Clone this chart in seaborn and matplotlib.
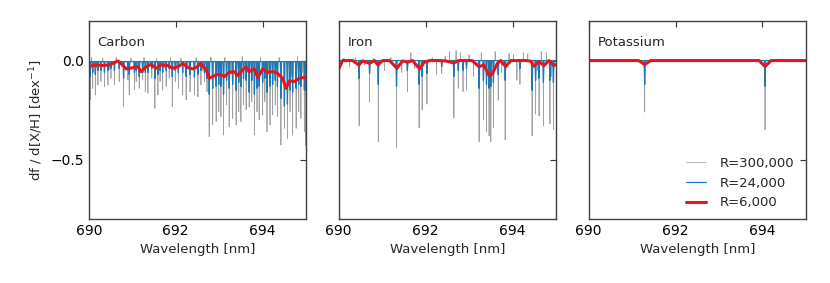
import numpy as np
import pandas as pd
import matplotlib
matplotlib.use("Agg")
import matplotlib.pyplot as plt
import seaborn as sns

# ---- line lists: centre [nm], R=300,000 depth, R=24,000 depth
carbon_wl = [690.03, 690.09, 690.15, 690.21, 690.28, 690.36, 690.44, 690.51, 690.59, 690.70,
             690.80, 690.90, 690.93, 691.05, 691.09, 691.16, 691.24, 691.30, 691.36, 691.45,
             691.52, 691.59, 691.64, 691.70, 691.78, 691.85, 691.92, 691.99, 692.06, 692.16,
             692.24, 692.33, 692.43, 692.51, 692.58, 692.66, 692.72, 692.77, 692.85, 692.93,
             692.99, 693.04, 693.10, 693.17, 693.23, 693.31, 693.39, 693.45, 693.50, 693.56,
             693.62, 693.69, 693.75, 693.81, 693.87, 693.92, 694.00, 694.05, 694.10, 694.17,
             694.23, 694.29, 694.34, 694.42, 694.50, 694.57, 694.63, 694.69, 694.77, 694.83,
             694.88, 694.96, 694.995]
carbon_hi = [-0.199, -0.140, -0.174, -0.123, -0.106, -0.131, -0.123, -0.089, -0.123, -0.106,
             -0.233, -0.098, -0.174, -0.148, -0.106, -0.140, -0.098, -0.157, -0.165, -0.089,
             -0.241, -0.174, -0.106, -0.148, -0.131, -0.089, -0.233, -0.106, -0.140, -0.174,
             -0.199, -0.157, -0.174, -0.183, -0.123, -0.106, -0.157, -0.384, -0.325, -0.308,
             -0.258, -0.283, -0.376, -0.224, -0.334, -0.292, -0.325, -0.258, -0.308, -0.224,
             -0.249, -0.235, -0.207, -0.376, -0.258, -0.300, -0.275, -0.207, -0.359, -0.325,
             -0.275, -0.224, -0.283, -0.426, -0.342, -0.393, -0.258, -0.376, -0.342, -0.258,
             -0.292, -0.359, -0.430]
carbon_mid = [-0.081, -0.060, -0.070, -0.050, -0.050, -0.060, -0.050, -0.040, -0.050, -0.040,
              -0.090, -0.050, -0.070, -0.060, -0.050, -0.080, -0.060, -0.060, -0.060, -0.040,
              -0.090, -0.070, -0.050, -0.060, -0.050, -0.040, -0.080, -0.050, -0.060, -0.060,
              -0.080, -0.070, -0.080, -0.070, -0.050, -0.060, -0.090, -0.170, -0.140, -0.130,
              -0.120, -0.130, -0.170, -0.100, -0.140, -0.120, -0.150, -0.110, -0.130, -0.090,
              -0.100, -0.160, -0.100, -0.170, -0.140, -0.130, -0.110, -0.090, -0.160, -0.130,
              -0.120, -0.100, -0.130, -0.190, -0.230, -0.220, -0.150, -0.160, -0.140, -0.120,
              -0.130, -0.150, -0.150]
carbon_small_wl = [690.06, 690.18, 690.32, 690.47, 690.63, 690.75, 690.97, 691.13, 691.27,
                   691.41, 691.56, 691.74, 691.88, 692.02, 692.12, 692.28, 692.47, 692.62,
                   692.81, 692.96, 693.13, 693.27, 693.53, 693.66, 693.95, 694.14, 694.38,
                   694.66, 694.80, 694.92]
carbon_small = [0.015, -0.035, 0.012, -0.045, 0.015, -0.030, 0.012, -0.040, 0.015, -0.030,
                0.010, -0.035, 0.015, -0.040, 0.012, -0.030, 0.015, -0.050, 0.018, -0.060,
                0.015, -0.070, 0.020, -0.060, 0.018, -0.070, 0.015, -0.080, 0.020, -0.060]

iron_wl = [690.005, 690.47, 690.71, 690.91, 691.33, 691.58, 691.85, 691.92, 692.03, 692.37,
           692.65, 692.75, 692.86, 692.94, 693.23, 693.33, 693.40, 693.46, 693.50, 693.56,
           693.67, 693.83, 694.17, 694.45, 694.53, 694.61, 694.71, 694.86, 694.94]
iron_hi = [-0.39, -0.33, -0.21, -0.41, -0.44, -0.157, -0.34, -0.25, -0.22, -0.065,
           -0.29, -0.14, -0.157, -0.148, -0.41, -0.30, -0.36, -0.38, -0.41, -0.34,
           -0.20, -0.40, -0.12, -0.38, -0.27, -0.28, -0.33, -0.32, -0.35]
iron_mid = [-0.17, -0.09, -0.065, -0.12, -0.13, -0.05, -0.12, -0.08, -0.065, -0.03,
            -0.08, -0.05, -0.05, -0.04, -0.14, -0.10, -0.12, -0.14, -0.13, -0.11,
            -0.07, -0.10, -0.04, -0.15, -0.10, -0.09, -0.11, -0.10, -0.11]
iron_small_wl = [690.12, 690.25, 690.38, 690.60, 690.80, 691.05, 691.20, 691.45, 691.66,
                 691.75, 692.15, 692.25, 692.45, 692.55, 692.70, 692.80, 693.00, 693.10,
                 693.28, 693.60, 693.75, 693.92, 694.02, 694.10, 694.25, 694.35, 694.57,
                 694.66, 694.78, 694.90]
iron_small = [0.012, -0.030, 0.015, -0.025, 0.012, -0.050, 0.015, -0.060, 0.040, -0.040,
              0.015, -0.070, 0.020, 0.045, 0.050, 0.040, 0.030, -0.080, 0.040, 0.045,
              -0.060, 0.035, 0.030, -0.100, 0.040, 0.035, -0.050, 0.045, 0.040, -0.080]

potassium_wl = [691.29, 694.06]
potassium_hi = [-0.26, -0.35]
potassium_mid = [-0.12, -0.13]
potassium_small_wl = []
potassium_small = []

# ---- R=6,000 curves
carbon_lo_wl = [690.00, 690.17, 690.32, 690.47, 690.67, 690.78, 690.86, 691.01, 691.13, 691.20,
                691.32, 691.43, 691.55, 691.66, 691.82, 691.93, 692.05, 692.16, 692.28, 692.39,
                692.49, 692.58, 692.70, 692.77, 692.89, 693.00, 693.12, 693.23, 693.35, 693.42,
                693.54, 693.62, 693.69, 693.81, 693.89, 694.00, 694.11, 694.23, 694.34, 694.46,
                694.54, 694.61, 694.73, 694.84, 694.92, 695.00]
carbon_lo = [-0.030, -0.022, -0.025, -0.022, -0.002, -0.022, -0.042, -0.036, -0.031, -0.056,
             -0.031, -0.019, -0.039, -0.022, -0.025, -0.039, -0.031, -0.014, -0.036, -0.042,
             -0.032, -0.014, -0.047, -0.090, -0.076, -0.069, -0.081, -0.059, -0.056, -0.076,
             -0.047, -0.031, -0.056, -0.042, -0.086, -0.042, -0.059, -0.056, -0.064, -0.090,
             -0.140, -0.103, -0.106, -0.090, -0.086, -0.086]

iron_lo_wl = [690.00, 690.09, 690.32, 690.46, 690.55, 690.71, 690.82, 690.90, 691.01, 691.17,
              691.34, 691.47, 691.59, 691.70, 691.86, 691.97, 692.09, 692.30, 692.46, 692.65,
              692.76, 692.92, 693.07, 693.23, 693.34, 693.46, 693.53, 693.65, 693.73, 693.84,
              693.96, 694.15, 694.30, 694.42, 694.49, 694.61, 694.72, 694.84, 694.95, 695.00]
iron_lo = [-0.042, 0.000, 0.000, -0.022, -0.002, -0.014, 0.000, -0.022, 0.000, 0.000,
           -0.039, -0.002, -0.008, 0.000, -0.042, -0.008, 0.000, 0.000, -0.002, -0.012,
           0.000, 0.000, 0.000, -0.031, -0.022, -0.076, -0.069, -0.014, 0.000, -0.031,
           0.000, 0.000, 0.000, -0.003, -0.028, -0.005, -0.025, 0.000, -0.025, -0.020]

potassium_lo_wl = [690.00, 691.15, 691.29, 691.43, 693.92, 694.06, 694.20, 695.00]
potassium_lo = [0.0, 0.0, -0.020, 0.0, 0.0, -0.030, 0.0, 0.0]

elements = ["Carbon", "Iron", "Potassium"]
resolutions = ["R=300,000", "R=24,000", "R=6,000"]
baselines = {"Carbon": -0.005, "Iron": 0.0, "Potassium": 0.0}

panels = {
    "Carbon": (carbon_wl, carbon_hi, carbon_mid, carbon_small_wl, carbon_small,
               carbon_lo_wl, carbon_lo),
    "Iron": (iron_wl, iron_hi, iron_mid, iron_small_wl, iron_small, iron_lo_wl, iron_lo),
    "Potassium": (potassium_wl, potassium_hi, potassium_mid, potassium_small_wl,
                  potassium_small, potassium_lo_wl, potassium_lo),
}


def spikes(centres, depths, hw, base):
    # one narrow V per line, joined along the baseline
    order = np.argsort(centres)
    xs, ys = [690.0], [base]
    for i in order:
        c, d = centres[i], depths[i]
        xs += [c - hw, c, c + hw]
        ys += [base, d, base]
    xs.append(695.0)
    ys.append(base)
    return xs, ys


records = []
for el, (wl, hi, mid, swl, sm, lwl, lo) in panels.items():
    base = baselines[el]
    x, y = spikes(list(wl) + list(swl), list(hi) + list(sm), 0.004, base)
    records.append(pd.DataFrame({"wl": x, "val": y, "res": resolutions[0], "el": el}))
    x, y = spikes(list(wl), list(mid), 0.014, base)
    records.append(pd.DataFrame({"wl": x, "val": y, "res": resolutions[1], "el": el}))
    records.append(pd.DataFrame({"wl": lwl, "val": lo, "res": resolutions[2], "el": el}))
df = pd.concat(records, ignore_index=True)

styles = {
    "R=300,000": dict(color="#a0a0a0", lw=0.55),
    "R=24,000": dict(color="#1f77b4", lw=0.9),
    "R=6,000": dict(color="#e4161c", lw=2.2),
}

sns.set_style("white")
plt.rcParams["font.family"] = ["DejaVu Sans"]
plt.rcParams["font.size"] = 9.5

fig, axes = plt.subplots(1, 3, figsize=(8.3, 2.83), dpi=100, sharey=True)
fig.subplots_adjust(left=0.107, right=0.971, bottom=0.226, top=0.926, wspace=0.15)

for ax, el in zip(axes, elements):
    for res in resolutions:
        sub = df[(df["el"] == el) & (df["res"] == res)]
        sns.lineplot(data=sub, x="wl", y="val", ax=ax, sort=False, estimator=None,
                     label=res if el == "Potassium" else None, **styles[res])
    ax.set_xlim(690, 695)
    ax.set_ylim(-0.8, 0.2)
    ax.set_xticks([690, 692, 694])
    ax.set_yticks([-0.5, 0.0])
    ax.tick_params(direction="in", top=True, right=True, length=4, width=0.8,
                   labelsize=10, colors="0.2", labelcolor="black")
    for sp in ax.spines.values():
        sp.set_color("0.25")
        sp.set_linewidth(1.0)
    ax.set_xlabel("Wavelength [nm]", fontsize=9.5)
    ax.set_ylabel("")
    ax.text(0.04, 0.89, el, transform=ax.transAxes, fontsize=9.5, va="center")

axes[0].set_ylabel("df / d[X/H] [dex$^{-1}$]", fontsize=9.5)
axes[2].legend(loc="lower right", frameon=False, fontsize=9.5, handlelength=1.5,
               handletextpad=1.0, bbox_to_anchor=(1.0, -0.01))

plt.savefig("out.png", dpi=100)
plt.close()
